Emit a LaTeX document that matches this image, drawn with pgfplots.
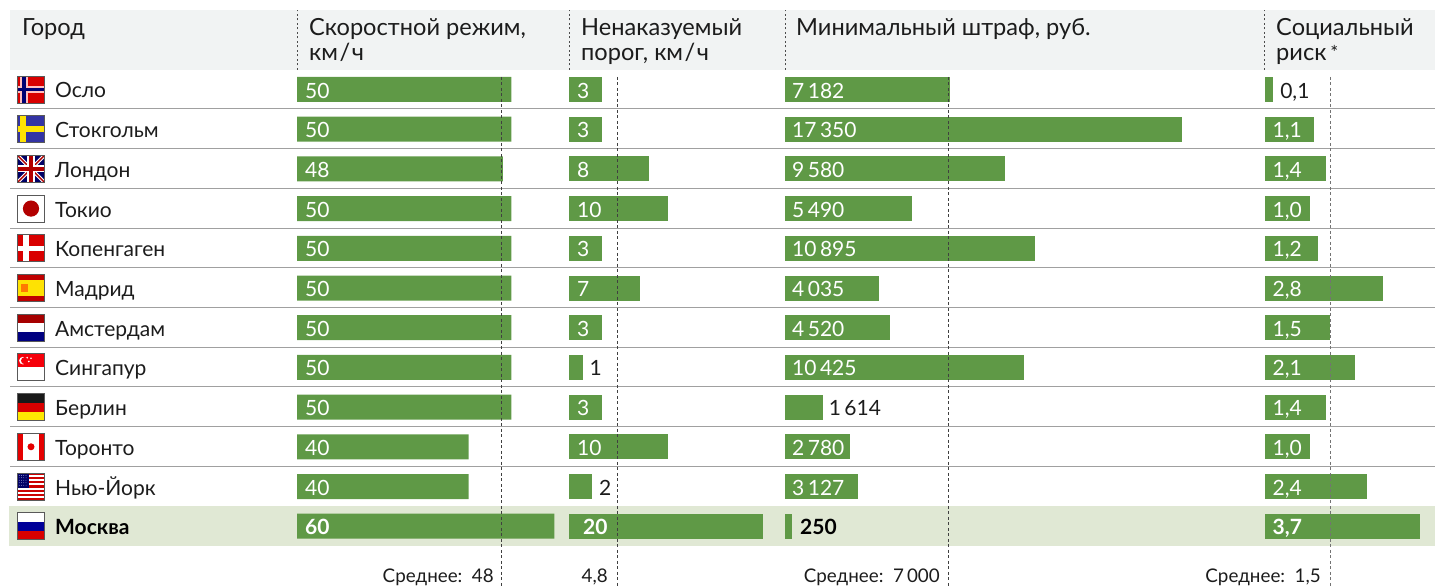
\documentclass[border=0pt]{standalone}
\usepackage{fontspec}
\setmainfont{Lato}
\usepackage{pgfplots}
\pgfplotsset{compat=1.18}
\definecolor{barg}{RGB}{95,153,70}
\definecolor{band}{RGB}{224,232,212}
\definecolor{headbg}{RGB}{241,243,243}
\definecolor{rule}{RGB}{160,160,160}
\definecolor{ink}{RGB}{28,28,28}
\newcommand\txt{\fontsize{21}{25}\selectfont}
\newcommand\headtxt{\fontsize{23.6}{28}\selectfont}
\newcommand\smalltxt{\fontsize{18.8}{22}\selectfont}
\pgfplotsset{
  panel/.style={
    hide axis, clip=false, scale only axis, y dir=reverse,
    ymin=-0.5, ymax=12.52, height=516.9pt, anchor=north west, xmin=0,
  },
  bars/.style={xbar, bar shift=0pt, bar width=25pt, fill=barg, draw=none},
  lab/.style={
    draw=none, mark=none, point meta=explicit symbolic,
    nodes near coords={\pgfplotspointmeta},
    nodes near coords style={anchor=west, inner sep=0pt, font=\txt, yshift=-1pt,
      text height=15pt, text depth=0pt, #1},
  },
  avg/.style={color=black!75, line width=0.8pt, dash pattern=on 3pt off 2.5pt},
}
% flag in a unit square, row #1
\newcommand\flag[2]{%
  \begin{scope}[shift={(17.5pt,{(586-89.5-39.7*#1-13.5)*1pt})},x=27pt,y=27pt]
    \begin{scope}
      \clip (0,0) rectangle (1,1);
      #2
    \end{scope}
    \draw[black!65,line width=0.9pt] (0,0) rectangle (1,1);
  \end{scope}}
\begin{document}
\begin{tikzpicture}
\path[use as bounding box] (0,0) rectangle (1435pt,586pt);
% header and rows
\fill[headbg] (10pt,516pt) rectangle (1435pt,576pt);
\fill[band] (9pt,40pt) rectangle (1435pt,80pt);
\foreach \i in {0,...,9}
  \draw[rule,line width=1pt] (10pt,{(586-109-39.7*\i)*1pt}) -- (1435pt,{(586-109-39.7*\i)*1pt});
\foreach \x in {297,569,785,1264}
  \draw[black!70,line width=0.8pt,dash pattern=on 2pt off 2.5pt] (\x pt,516pt) -- (\x pt,576pt);
% header text
\begin{scope}[every node/.style={anchor=base west,inner sep=0pt,font=\headtxt,text=ink}]
  \node at (22pt,550pt) {Город};
  \node at (309pt,550pt) {Скоростной режим,};
  \node at (309pt,525.5pt) {км\kern1.5pt/\kern1.5ptч};
  \node at (581pt,550pt) {Ненаказуемый};
  \node at (581pt,525.5pt) {порог, км\kern1.5pt/\kern1.5ptч};
  \node at (796pt,550pt) {Минимальный штраф, руб.};
  \node at (1276pt,550pt) {Социальный};
  \node at (1276pt,525.5pt) {риск\,\raisebox{1pt}{\smalltxt *}};
\end{scope}
% cities
\begin{axis}[panel, at={(55pt,516.35pt)}, width=100pt, xmax=100]
\addplot[lab={text=ink}] coordinates {
  (0,0)[Осло] (0,1)[Стокгольм] (0,2)[Лондон] (0,3)[Токио] (0,4)[Копенгаген]
  (0,5)[Мадрид] (0,6)[Амстердам] (0,7)[Сингапур] (0,8)[Берлин] (0,9)[Торонто]
  (0,10)[Нью-Йорк]};
\addplot[lab={text=black,font=\txt\bfseries}] coordinates {(0,11)[Москва]};
\end{axis}
% speed limit
\begin{axis}[panel, at={(297pt,516.35pt)}, width=257.4pt, xmax=60]
\addplot[bars] coordinates {(50,0)(50,1)(48,2)(50,3)(50,4)(50,5)(50,6)(50,7)(50,8)(40,9)(40,10)(60,11)};
\addplot[avg] coordinates {(47.7,-0.32)(47.7,12.52)};
\addplot[lab={text=white,xshift=8pt}] coordinates {
  (0,0)[50] (0,1)[50] (0,2)[48] (0,3)[50] (0,4)[50] (0,5)[50] (0,6)[50] (0,7)[50]
  (0,8)[50] (0,9)[40] (0,10)[40]};
\addplot[lab={text=white,xshift=8pt,font=\txt\bfseries}] coordinates {(0,11)[60]};
\end{axis}
% tolerance
\begin{axis}[panel, at={(571pt,516.35pt)}, width=190pt, xmax=20]
\addplot[bars, draw=barg, line width=4pt, bar width=21pt] coordinates {
  (3,0)(3,1)(8,2)(10,3)(3,4)(7,5)(3,6)(1,7)(3,8)(10,9)(2,10)(20,11)};
\addplot[avg] coordinates {(4.9,-0.32)(4.9,12.52)};
\addplot[lab={text=white,xshift=6pt}] coordinates {
  (0,0)[3] (0,1)[3] (0,2)[8] (0,3)[10] (0,4)[3] (0,5)[7] (0,6)[3] (0,8)[3] (0,9)[10]};
\addplot[lab={text=ink,xshift=9pt}] coordinates {(1,7)[1] (2,10)[2]};
\addplot[lab={text=white,xshift=12pt,font=\txt\bfseries}] coordinates {(0,11)[20]};
\end{axis}
% fine
\begin{axis}[panel, at={(785.8pt,516.35pt)}, width=456pt, xmax=20000]
\addplot[bars, draw=barg, line width=1.6pt, bar width=23.4pt] coordinates {
  (7182,0)(17350,1)(9580,2)(5490,3)(10895,4)(4035,5)(4520,6)(10425,7)(1614,8)(2780,9)(3127,10)(250,11)};
\addplot[avg] coordinates {(7114,-0.32)(7114,12.52)};
\addplot[lab={text=white,xshift=6.2pt}] coordinates {
  (0,0)[7\,182] (0,1)[17\,350] (0,2)[9\,580] (0,3)[5\,490] (0,4)[10\,895] (0,5)[4\,035]
  (0,6)[4\,520] (0,7)[10\,425] (0,9)[2\,780] (0,10)[3\,127]};
\addplot[lab={text=ink,xshift=6pt}] coordinates {(1614,8)[1\,614]};
\addplot[lab={text=black,xshift=8.5pt,font=\txt\bfseries}] coordinates {(250,11)[250]};
\end{axis}
% social risk
\begin{axis}[panel, at={(1266.5pt,516.35pt)}, width=164pt, xmax=4]
\addplot[bars, draw=barg, line width=4pt, bar width=21pt] coordinates {
  (0.1,0)(1.1,1)(1.4,2)(1.0,3)(1.2,4)(2.8,5)(1.5,6)(2.1,7)(1.4,8)(1.0,9)(2.4,10)(3.7,11)};
\addplot[avg, color=black!55, line width=1pt] coordinates {(1.55,-0.32)(1.55,12.52)};
\addplot[lab={text=ink,xshift=9.5pt}] coordinates {(0.1,0)[0,1]};
\addplot[lab={text=white,xshift=6pt}] coordinates {
  (0,1)[1,1] (0,2)[1,4] (0,3)[1,0] (0,4)[1,2] (0,5)[2,8] (0,6)[1,5] (0,7)[2,1]
  (0,8)[1,4] (0,9)[1,0] (0,10)[2,4]};
\addplot[lab={text=white,xshift=6pt,font=\txt\bfseries}] coordinates {(0,11)[3,7]};
\end{axis}
% averages
\begin{scope}[every node/.style={anchor=base east,inner sep=0pt,font=\smalltxt,text=ink}]
  \node at (494pt,3.5pt) {Среднее:\ \ 48};
  \node at (608pt,3.5pt) {4,8};
  \node at (940pt,3.5pt) {Среднее:\ \ 7\,000};
  \node at (1321pt,3.5pt) {Среднее:\ \ 1,5};
\end{scope}
% flags
\flag{0}{\fill[red!85!black] (0,0) rectangle (1,1);
  \fill[white!75!red] (.1,0) rectangle (.38,1); \fill[white!75!red] (0,.38) rectangle (1,.62);
  \fill[blue!45!black] (.17,0) rectangle (.31,1); \fill[blue!45!black] (0,.45) rectangle (1,.56);}
\flag{1}{\fill[blue!55!black!80!white] (0,0) rectangle (1,1);
  \fill[yellow!85!orange] (.08,0) rectangle (.33,1); \fill[yellow!85!orange] (0,.38) rectangle (1,.6);}
\flag{2}{\fill[blue!40!black] (0,0) rectangle (1,1);
  \draw[white,line width=3.5pt] (0,0) -- (1,1) (0,1) -- (1,0);
  \draw[red!70!black,line width=1.5pt] (0,0) -- (1,1) (0,1) -- (1,0);
  \fill[white] (.37,0) rectangle (.63,1); \fill[white] (0,.37) rectangle (1,.63);
  \fill[red!70!black] (.43,0) rectangle (.57,1); \fill[red!70!black] (0,.43) rectangle (1,.57);}
\flag{3}{\fill[white] (0,0) rectangle (1,1); \fill[red!70!black] (.5,.5) circle (.3);}
\flag{4}{\fill[red!85!black] (0,0) rectangle (1,1);
  \fill[white] (.2,0) rectangle (.41,1); \fill[white] (0,.4) rectangle (1,.58);}
\flag{5}{\fill[red!75!black] (0,0) rectangle (1,1); \fill[yellow!85!orange] (0,.22) rectangle (1,.78);
  \fill[orange!70!red!80!yellow] (.12,.36) rectangle (.4,.64);}
\flag{6}{\fill[red!65!black] (0,.67) rectangle (1,1); \fill[white] (0,.33) rectangle (1,.67);
  \fill[blue!50!black] (0,0) rectangle (1,.33);}
\flag{7}{\fill[white] (0,0) rectangle (1,.5); \fill[red!85!purple] (0,.5) rectangle (1,1);
  \fill[white] (.2,.75) circle (.14); \fill[red!85!purple] (.26,.75) circle (.13);
  \fill[white] (.42,.72) circle (.035); \fill[white] (.36,.86) circle (.035); \fill[white] (.5,.84) circle (.035);}
\flag{8}{\fill[black!90] (0,.67) rectangle (1,1); \fill[red!85!black] (0,.33) rectangle (1,.67);
  \fill[yellow!90!orange] (0,0) rectangle (1,.33);}
\flag{9}{\fill[white] (0,0) rectangle (1,1); \fill[red!90!black] (0,0) rectangle (.2,1);
  \fill[red!90!black] (.8,0) rectangle (1,1); \fill[red!90!black] (.5,.5) circle (.13);}
\flag{10}{\fill[white] (0,0) rectangle (1,1);
  \foreach \k in {0,...,6} \fill[red!80!black] (0,{\k*2/13}) rectangle (1,{(\k*2+1)/13});
  \fill[blue!40!black] (0,.46) rectangle (.42,1);
  \foreach \a in {1,...,4} \foreach \b in {1,...,5}
    \fill[white!80!blue] ({.084*\a-.02},{.46+.09*\b}) circle (.014);}
\flag{11}{\fill[white] (0,.67) rectangle (1,1); \fill[blue!60!black] (0,.33) rectangle (1,.67);
  \fill[red!85!black] (0,0) rectangle (1,.33);}
\end{tikzpicture}
\end{document}
